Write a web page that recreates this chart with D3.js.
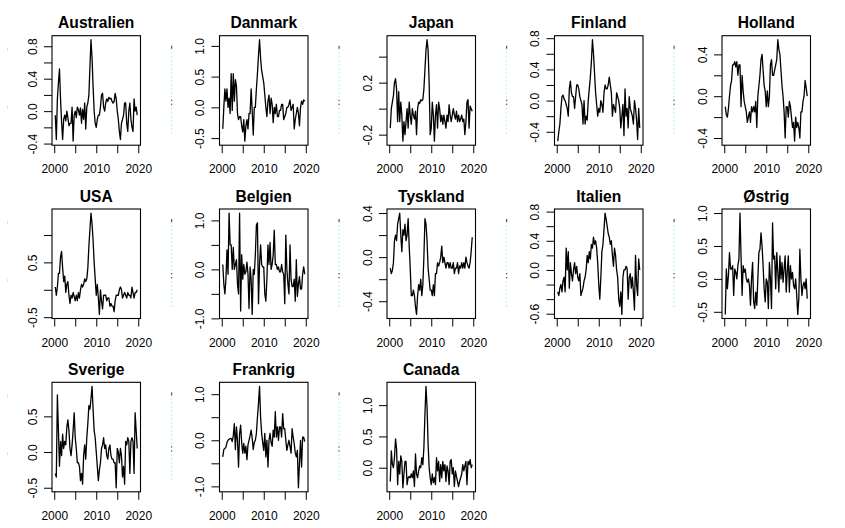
<!DOCTYPE html>
<html>
<head>
<meta charset="utf-8">
<script src="https://cdnjs.cloudflare.com/ajax/libs/d3/7.8.5/d3.min.js"></script>
<style>
body { margin: 0; background: #fff; }
svg text { font-family: "Liberation Sans", Arial, sans-serif; fill: #000; }
</style>
</head>
<body>
<div id="chart"></div>
<script>
'use strict';

// kvartalsdata, første observation 2000.25
var START = 2000.25;
var FREQ = 4;

var countries = ['Australien', 'Danmark', 'Japan', 'Finland', 'Holland',
    'USA', 'Belgien', 'Tyskland', 'Italien', 'Østrig',
    'Sverige', 'Frankrig', 'Canada'];

var australien = [
    -0.05, -0.35, 0.15,
    0.35, 0.52, 0.15, -0.13,
    -0.35, -0.1, -0.05, -0.12,
    0.0, -0.08, -0.18, -0.15,
    -0.15, 0.05, -0.37, -0.05,
    0.0, -0.08, 0.05, 0.02,
    -0.05, 0.04, -0.15, 0.02,
    -0.1, 0.1, -0.22, 0.05,
    0.1, 0.2, 0.55, 0.88,
    0.65, 0.3, 0.0, -0.15,
    -0.2, -0.1, -0.05, -0.05,
    0.05, 0.2, 0.22, 0.05,
    0.0, 0.1, 0.15, 0.12,
    0.17, 0.15, 0.16, 0.12,
    0.1, 0.12, 0.22, 0.15,
    0.0, -0.1, -0.25, -0.35,
    -0.15, -0.1, -0.05, 0.1,
    0.1, -0.15, -0.25, 0.0,
    0.1, -0.1, -0.2, -0.25,
    0.15, 0.0, 0.05, -0.05
];
var danmark = [
    -0.35, 0.0, 0.3,
    0.1, 0.3, 0.0, 0.15,
    -0.1, 0.55, -0.05, 0.55,
    0.1, 0.45, 0.35, -0.1,
    -0.2, -0.15, -0.15, -0.3,
    -0.4, -0.2, -0.55, -0.3,
    -0.2, -0.35, -0.1, -0.1,
    0.3, -0.05, -0.45, 0.0,
    0.0, 0.3, 0.55, 0.85,
    1.1, 0.8, 0.6, 0.5,
    0.4, 0.2, 0.0, -0.15,
    0.1, 0.2, -0.1, 0.15,
    0.05, -0.25, 0.0, -0.1,
    0.05, -0.15, -0.15, -0.05,
    -0.05, 0.05, 0.05, -0.2,
    -0.15, -0.1, 0.0, 0.0,
    0.05, 0.12, -0.05, 0.0,
    0.05, -0.35, -0.2, -0.1,
    0.0, -0.1, -0.3, 0.0,
    0.1, 0.05, 0.12, 0.1
];
var japan = [
    -0.15, 0.0, 0.05,
    0.1, 0.2, 0.23, 0.15,
    -0.1, 0.13, -0.1, 0.05,
    -0.05, -0.25, -0.1, -0.2,
    -0.1, 0.0, -0.15, 0.05,
    -0.05, -0.12, 0.0, -0.05,
    -0.08, -0.02, -0.2, 0.0,
    0.05, 0.04, 0.07, 0.06,
    0.07, 0.15, 0.3, 0.45,
    0.53, 0.45, 0.2, -0.2,
    -0.15, 0.05, -0.05, -0.25,
    -0.05, 0.03, -0.15, 0.05,
    0.0, -0.1, -0.05, -0.12,
    -0.05, -0.1, -0.15, -0.05,
    -0.1, 0.03, -0.05, -0.1,
    -0.05, 0.0, -0.05, -0.08,
    -0.02, -0.1, -0.05, -0.1,
    -0.08, -0.05, -0.1, -0.08,
    -0.2, -0.1, 0.05, 0.07,
    -0.15, 0.02, 0.0, -0.02
];
var finland = [
    -0.52, -0.4, -0.3,
    -0.1, 0.05, 0.07, 0.02,
    0.0, -0.05, -0.1, -0.2,
    0.15, 0.25, 0.1, 0.05,
    0.05, -0.1, 0.05, 0.2,
    0.2, 0.15, 0.05, 0.0,
    -0.05, -0.3, 0.0, -0.3,
    -0.2, -0.25, 0.0, 0.15,
    0.3, 0.5, 0.78, 0.6,
    0.35, 0.1, -0.05, -0.2,
    -0.1, -0.15, 0.0, -0.05,
    -0.15, 0.1, 0.2, 0.15,
    0.15, 0.2, 0.3, 0.2,
    0.1, -0.2, -0.05, -0.1,
    -0.15, 0.1, 0.05, 0.0,
    -0.1, -0.35, -0.2, -0.05,
    -0.45, 0.15, -0.2, -0.1,
    -0.35, 0.05, -0.1, -0.15,
    -0.2, -0.3, 0.0, -0.1,
    -0.25, -0.5, -0.1, -0.35
];
var holland = [
    -0.1, -0.18, -0.2,
    -0.12, 0.0, 0.1, 0.15,
    0.3, 0.3, 0.33, 0.28,
    0.33, 0.2, 0.3, 0.3,
    -0.1, 0.2, 0.05, -0.05,
    -0.1, -0.15, -0.25, -0.2,
    -0.15, -0.25, -0.1, -0.15,
    -0.1, -0.15, -0.05, -0.3,
    0.0, 0.1, 0.2, 0.35,
    0.4, 0.25, 0.1, 0.05,
    -0.1, 0.05, -0.1, 0.0,
    0.3, 0.35, 0.2, 0.2,
    0.25, 0.3, 0.35, 0.54,
    0.45, 0.4, 0.25, 0.1,
    0.0, -0.15, -0.4, -0.1,
    -0.1, -0.2, -0.05, -0.1,
    -0.2, -0.3, -0.25, -0.43,
    -0.2, -0.3, -0.25, -0.3,
    -0.4, -0.15, -0.15, -0.05,
    0.0, 0.15, 0.08, 0.0
];
var usa = [
    0.05, -0.1, 0.05,
    0.3, 0.3, 0.6, 0.7,
    0.4, 0.15, 0.25, -0.05,
    0.1, 0.15, -0.1, -0.25,
    -0.1, -0.15, -0.05, -0.12,
    -0.2, -0.1, -0.2, -0.05,
    -0.15, 0.0, 0.1, 0.05,
    0.1, 0.2, 0.15, 0.2,
    0.4, 0.8, 1.1, 1.4,
    1.2, 0.9, 0.5, 0.2,
    -0.1, 0.1, -0.15, -0.45,
    0.0, -0.2, -0.35, -0.1,
    -0.1, -0.1, -0.2, -0.15,
    -0.15, -0.3, -0.25, -0.3,
    -0.3, -0.4, -0.2, -0.1,
    -0.1, -0.1, 0.0, 0.05,
    0.0, -0.15, -0.1, -0.05,
    -0.1, -0.15, -0.05, -0.1,
    -0.1, -0.15, 0.05, -0.05,
    -0.15, -0.05, -0.05, 0.0
];
var belgien = [
    0.1, -0.3, -0.5,
    -0.2, 0.4, -0.1, 1.15,
    0.5, 0.5, 0.0, 0.45,
    0.0, 0.1, 0.2, -0.3,
    -0.5, 1.15, -0.85, 0.3,
    -0.2, 0.1, -0.1, -0.05,
    0.15, -0.1, -0.8, 0.05,
    -0.2, -0.92, 0.0, -0.1,
    0.3, 0.9, 0.95, -0.7,
    0.1, 0.5, 0.1, 0.05,
    0.05, -0.5, -0.65, -0.2,
    0.5, 0.1, 0.55, 0.0,
    0.1, 0.3, 0.8, 0.1,
    0.1, 0.0, 0.05, -0.05,
    -0.05, 0.1, -0.05, -0.1,
    -0.7, 0.7, 0.0, -0.3,
    -0.5, 0.5, -0.2, -0.35,
    -0.35, -0.2, -0.65, 0.2,
    -0.55, -0.3, -0.15, -0.4,
    -0.4, -0.1, 0.05, -0.1
];
var tyskland = [
    -0.1, -0.15, -0.12,
    -0.05, 0.15, 0.2, 0.15,
    0.3, 0.35, 0.4, 0.2,
    0.05, 0.25, 0.2, 0.3,
    0.15, 0.2, 0.35, 0.1,
    -0.1, -0.35, -0.35, -0.3,
    -0.35, -0.45, -0.52, -0.35,
    -0.25, -0.3, -0.2, -0.35,
    -0.25, 0.0, 0.35, 0.3,
    0.15, -0.1, -0.2, -0.3,
    -0.3, -0.35, -0.25, -0.35,
    -0.15, -0.15, -0.05, -0.08,
    -0.05, 0.0, 0.1, -0.05,
    0.0, -0.05, -0.1, -0.05,
    -0.05, -0.1, -0.05, -0.1,
    -0.1, -0.05, -0.15, -0.1,
    -0.1, -0.05, -0.15, -0.08,
    -0.1, -0.05, -0.1, -0.05,
    -0.1, 0.0, -0.05, -0.08,
    -0.1, -0.05, 0.05, 0.18
];
var italien = [
    -0.3, -0.35, -0.25,
    -0.2, -0.3, -0.15, -0.1,
    -0.3, 0.3, 0.0, 0.25,
    -0.25, 0.1, -0.05, -0.15,
    0.0, 0.1, -0.05, 0.05,
    -0.1, -0.15, -0.05, -0.35,
    -0.3, -0.25, -0.15, -0.1,
    0.0, 0.2, 0.1, 0.25,
    0.15, 0.35, 0.3, 0.45,
    0.35, 0.4, 0.3, 0.1,
    -0.2, -0.4, -0.1, 0.25,
    0.35, 0.55, 0.78, 0.7,
    0.6, 0.5, 0.45, 0.35,
    0.4, 0.2, 0.05, 0.3,
    0.2, 0.0, -0.1, -0.4,
    -0.5, -0.3, -0.61, -0.1,
    0.0, 0.0, 0.05, 0.02,
    -0.4, -0.1, -0.05, -0.25,
    -0.1, -0.3, -0.55, 0.2,
    -0.2, -0.35, 0.15, 0.0
];
var oestrig = [
    -0.54, 0.15, -0.15,
    0.05, 0.4, 0.15, 0.15,
    0.2, -0.25, 0.15, 0.1,
    0.0, 0.2, 0.3, 1.0,
    0.35, -0.25, 0.2, 0.1,
    0.15, 0.0, -0.05, 0.0,
    -0.1, -0.4, 0.0, 0.25,
    -0.35, -0.45, -0.2, -0.4,
    0.0, 0.4, 0.45, 0.7,
    0.5, 0.2, -0.15, -0.35,
    0.0, -0.05, -0.45, 0.25,
    0.0, -0.45, 0.85, 0.3,
    0.35, -0.15, 0.4, 0.1,
    -0.2, 0.35, 0.0, 0.25,
    -0.05, 0.15, 0.35, -0.2,
    0.1, 0.35, -0.2, 0.2,
    0.0, 0.1, -0.1, -0.15,
    0.0, -0.25, -0.54, -0.3,
    0.45, 0.0, -0.25, -0.1,
    -0.05, -0.15, 0.0, -0.3
];
var sverige = [
    -0.3, -0.35, 0.8,
    0.3, -0.2, 0.15, -0.05,
    0.25, 0.05, 0.15, 0.1,
    0.35, 0.45, 0.3, 0.05,
    -0.05, 0.1, 0.3, 0.55,
    0.2, 0.05, -0.15, -0.15,
    -0.2, -0.4, -0.3, -0.45,
    -0.05, 0.1, -0.1, 0.2,
    0.4, 0.65, 0.6, 0.75,
    0.92, 0.6, 0.3, 0.2,
    0.0, -0.2, -0.4, -0.25,
    -0.15, 0.05, 0.1, 0.2,
    0.05, 0.1, -0.05, -0.1,
    0.05, 0.1, -0.05, -0.1,
    -0.1, -0.15, -0.15, -0.5,
    0.05, 0.0, -0.15, 0.05,
    -0.05, -0.35, -0.2, -0.45,
    0.15, 0.1, 0.2, 0.15,
    -0.3, 0.15, 0.2, 0.15,
    -0.3, 0.55, 0.3, 0.05
];
var frankrig = [
    -0.36, -0.2, -0.18,
    -0.15, -0.05, 0.0, 0.02,
    0.04, 0.04, -0.03, 0.1,
    0.36, -0.2, 0.29, 0.0,
    -0.58, 0.14, 0.33, -0.05,
    -0.28, -0.07, -0.28, -0.13,
    -0.42, -0.1, 0.0, 0.1,
    0.22, 0.05, -0.2, -0.05,
    0.0, 0.15, 0.5, 0.8,
    1.17, 0.5, 0.15, -0.05,
    -0.22, 0.15, -0.36, 0.0,
    -0.58, 0.0, 0.15, -0.05,
    -0.13, 0.22, 0.07, 0.62,
    0.07, 0.29, 0.0, 0.29,
    0.29, 0.07, 0.58, 0.25,
    0.25, 0.0, -0.22, -0.1,
    0.0, -0.13, -0.28, 0.25,
    0.07, -0.07, -0.28, -0.36,
    -0.22, -1.03, -0.51, 0.0,
    -0.58, 0.07, 0.07, -0.03
];
var canada = [
    -0.22, 0.27, 0.05,
    0.0, 0.16, 0.46, 0.3,
    -0.27, 0.1, -0.1, 0.19,
    0.1, -0.32, -0.1, 0.1,
    0.1, -0.27, -0.16, -0.14,
    -0.16, -0.1, -0.16, -0.05,
    -0.3, 0.22, -0.1, -0.16,
    -0.05, 0.03, 0.0, 0.16,
    0.05, 0.32, 0.86, 1.3,
    0.97, 0.38, 0.0, -0.16,
    -0.27, -0.1, -0.24, -0.16,
    -0.27, 0.16, -0.05, 0.1,
    -0.22, 0.05, -0.16, 0.1,
    -0.05, 0.05, -0.22, 0.03,
    -0.05, -0.27, 0.1, 0.13,
    -0.1, 0.0, -0.3, -0.05,
    -0.14, -0.22, -0.3, -0.22,
    -0.16, -0.1, 0.05, -0.05,
    0.03, 0.1, -0.27, 0.1,
    0.05, 0.13, 0.0, 0.05
];

var series = [australien, danmark, japan, finland, holland,
    usa, belgien, tyskland, italien, oestrig,
    sverige, frankrig, canada];

// akser
var xTicks = [2000, 2005, 2010, 2015, 2020];
var xLabels = [2000, 2010, 2020];

var yTicks = [
    [-0.4, -0.2, 0.0, 0.2, 0.4, 0.6, 0.8],
    [-0.5, 0.0, 0.5, 1.0],
    [-0.2, 0.0, 0.2, 0.4],
    [-0.4, -0.2, 0.0, 0.2, 0.4, 0.6, 0.8],
    [-0.4, -0.2, 0.0, 0.2, 0.4],
    [-0.5, 0.0, 0.5, 1.0],
    [-1.0, -0.5, 0.0, 0.5, 1.0],
    [-0.4, -0.2, 0.0, 0.2, 0.4],
    [-0.6, -0.4, -0.2, 0.0, 0.2, 0.4, 0.6, 0.8],
    [-0.5, 0.0, 0.5, 1.0],
    [-0.5, 0.0, 0.5],
    [-1.0, -0.5, 0.0, 0.5, 1.0],
    [0.0, 0.5, 1.0]
];
var yLabels = [
    [-0.4, 0.0, 0.4, 0.8],
    [-0.5, 0.0, 0.5, 1.0],
    [-0.2, 0.2],
    [-0.4, 0.0, 0.4, 0.8],
    [-0.4, 0.0, 0.4],
    [-0.5, 0.5],
    [-1.0, 0.0, 1.0],
    [-0.4, 0.0, 0.4],
    [-0.6, 0.0, 0.4, 0.8],
    [-0.5, 0.0, 0.5, 1.0],
    [-0.5, 0.0, 0.5],
    [-1.0, 0.0, 1.0],
    [0.0, 0.5, 1.0]
];

// layout
var W = 845, H = 528;
var COL_X0 = 52, COL_STEP = 167.5, BOX_W = 88.5;
var ROW_Y0 = 35.7, ROW_STEP = 173.3, BOX_H = 109.5;
var TICK = 8;

var svg = d3.select('#chart')
    .append('svg')
    .attr('width', W)
    .attr('height', H);

svg.append('rect')
    .attr('width', W)
    .attr('height', H)
    .attr('fill', '#fff');

// R-agtig 4% udvidelse af akserne
function padExtent(ext) {
    var d = (ext[1] - ext[0]) * 0.04;
    return [ext[0] - d, ext[1] + d];
}

function hasValue(list, v) {
    return list.some(function(l) { return Math.abs(l - v) < 1e-9; });
}

countries.forEach(function(name, k) {
    var col = k % 5;
    var row = Math.floor(k / 5);
    var left = COL_X0 + col * COL_STEP;
    var top = ROW_Y0 + row * ROW_STEP;

    var data = series[k].map(function(v, i) {
        return { t: START + i / FREQ, v: v };
    });

    var x = d3.scaleLinear()
        .domain(padExtent(d3.extent(data, function(d) { return d.t; })))
        .range([left, left + BOX_W]);
    var y = d3.scaleLinear()
        .domain(padExtent(d3.extent(data, function(d) { return d.v; })))
        .range([top + BOX_H, top]);

    var g = svg.append('g');

    // svage cyan rester til venstre for panelet
    var gx = left - 48;
    if (col > 0) {
        g.append('line')
            .attr('x1', gx).attr('x2', gx)
            .attr('y1', top + 12).attr('y2', top + 100)
            .attr('stroke', '#cdf2f7')
            .attr('stroke-width', 1.5)
            .attr('stroke-dasharray', '2,2');
        g.append('rect')
            .attr('x', gx - 0.5).attr('y', top + 10)
            .attr('width', 1.2).attr('height', 3)
            .attr('fill', '#556');
        g.append('rect')
            .attr('x', gx - 0.5).attr('y', top + 64)
            .attr('width', 1.2).attr('height', 1.2)
            .attr('fill', '#556');
        g.append('rect')
            .attr('x', gx - 0.5).attr('y', top + 68)
            .attr('width', 1.2).attr('height', 1.2)
            .attr('fill', '#556');
    } else {
        [12, 70].forEach(function(dy) {
            g.append('rect')
                .attr('x', 7).attr('y', top + dy)
                .attr('width', 1.2).attr('height', 3)
                .attr('fill', '#bfeff5');
        });
    }

    // serien
    g.append('path')
        .datum(data)
        .attr('fill', 'none')
        .attr('stroke', '#000')
        .attr('stroke-width', 1.3)
        .attr('stroke-linejoin', 'round')
        .attr('d', d3.line()
            .x(function(d) { return x(d.t); })
            .y(function(d) { return y(d.v); }));

    // ramme
    g.append('rect')
        .attr('x', left)
        .attr('y', top)
        .attr('width', BOX_W)
        .attr('height', BOX_H)
        .attr('fill', 'none')
        .attr('stroke', '#000')
        .attr('stroke-width', 1.1);

    // x-akse
    var xa = g.append('g')
        .attr('transform', 'translate(0,' + (top + BOX_H) + ')')
        .call(d3.axisBottom(x)
            .tickValues(xTicks)
            .tickSize(TICK)
            .tickPadding(11.5)
            .tickFormat(function(d) { return hasValue(xLabels, d) ? String(d) : ''; }));
    xa.select('.domain').remove();
    xa.attr('font-size', 12).attr('font-family', '"Liberation Sans", Arial, sans-serif');
    xa.selectAll('line').attr('stroke', '#000');

    // y-akse med lodrette etiketter
    var ya = g.append('g')
        .attr('transform', 'translate(' + left + ',0)')
        .call(d3.axisLeft(y)
            .tickValues(yTicks[k])
            .tickSize(TICK)
            .tickFormat(function(d) { return hasValue(yLabels[k], d) ? d.toFixed(1) : ''; }));
    ya.select('.domain').remove();
    ya.attr('font-size', 12).attr('font-family', '"Liberation Sans", Arial, sans-serif');
    ya.selectAll('line').attr('stroke', '#000');
    ya.selectAll('text')
        .attr('x', null)
        .attr('dy', null)
        .attr('text-anchor', 'middle')
        .attr('dominant-baseline', 'central')
        .attr('transform', 'translate(-19.5,0) rotate(-90)');

    // titel
    g.append('text')
        .attr('x', left + BOX_W / 2)
        .attr('y', top - 7.3)
        .attr('text-anchor', 'middle')
        .style('font-size', '15.6px')
        .style('font-weight', 'bold')
        .text(name);
});
</script>
</body>
</html>
